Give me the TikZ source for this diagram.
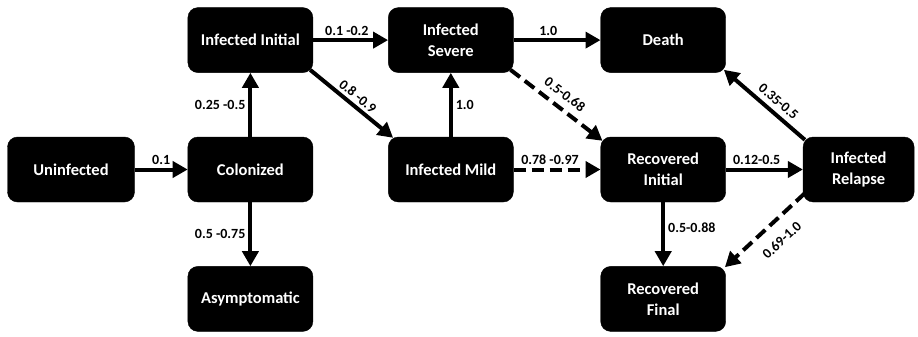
\documentclass[tikz,border=0pt]{standalone}
\usepackage{fontspec}
\setmainfont{Carlito}
\usepackage{tikz}
\usetikzlibrary{arrows.meta,positioning}

\begin{document}
\begin{tikzpicture}[
  state/.style={draw=black, fill=black, rounded corners=10pt, minimum width=125pt,
                minimum height=65pt, align=center, text=white,
                font=\fontsize{16.5}{21}\selectfont\bfseries},
  lab/.style={font=\fontsize{14}{16}\selectfont\bfseries, inner sep=3pt},
  arr/.style={-{Triangle[length=15pt,width=16pt]}, line width=4pt},
  darr/.style={arr, dash pattern=on 12pt off 6pt}
]
\useasboundingbox (0,0) rectangle (918pt,-337pt);
\node[state, minimum width=127pt] (unin) at (71pt,-169.5pt) {Uninfected};
\node[state, right=53pt of unin] (col) {Colonized};
\node[state, above=64pt of col] (inI) {Infected Initial};
\node[state, below=64pt of col] (asym) {Asymptomatic};
\node[state, right=75pt of col] (inM) {Infected Mild};
\node[state, above=64pt of inM] (inS) {Infected\\Severe};
\node[state, right=87pt of inM] (recI) {Recovered\\Initial};
\node[state, above=64pt of recI] (death) {Death};
\node[state, below=64pt of recI] (recF) {Recovered\\Final};
\node[state, minimum width=111pt, right=77pt of recI] (rel) {Infected\\Relapse};
\draw[arr] (unin) -- node[lab, above]{0.1} (col);
\draw[arr] (col) -- node[lab, left]{0.25 -0.5} (inI);
\draw[arr] (col) -- node[lab, left]{0.5 -0.75} (asym);
\draw[arr] (inI) -- node[lab, above, pos=0.45]{0.1 -0.2} (inS);
\draw[arr] ([shift={(-3pt,3pt)}]inI.south east) -- node[lab, above, sloped]{0.8 -0.9} ([shift={(5pt,-1pt)}]inM.north west);
\draw[arr] (inM) -- node[lab, right]{1.0} (inS);
\draw[arr] (inS) -- node[lab, above, pos=0.4]{1.0} (death);
\draw[darr] ([shift={(-3pt,3pt)}]inS.south east) -- node[lab, above=4pt, sloped, pos=0.5]{0.5-0.68} ([shift={(2pt,-4pt)}]recI.north west);
\draw[darr] (inM) -- node[lab, above, pos=0.42]{0.78 -0.97} (recI);
\draw[arr] (recI) -- node[lab, above, pos=0.4]{0.12-0.5} (rel);
\draw[arr] (recI) -- node[lab, right, pos=0.4]{0.5-0.88} (recF);
\draw[arr] ([shift={(2pt,-3pt)}]rel.north west) -- node[lab, above=2pt, sloped, pos=0.42]{0.35-0.5} ([shift={(-2pt,3pt)}]death.south east);
\draw[darr] ([shift={(2pt,9pt)}]rel.south west) -- node[lab, below=9pt, sloped, pos=0.45]{0.69-1.0} ([shift={(-1pt,-1pt)}]recF.north east);
\end{tikzpicture}
\end{document}
